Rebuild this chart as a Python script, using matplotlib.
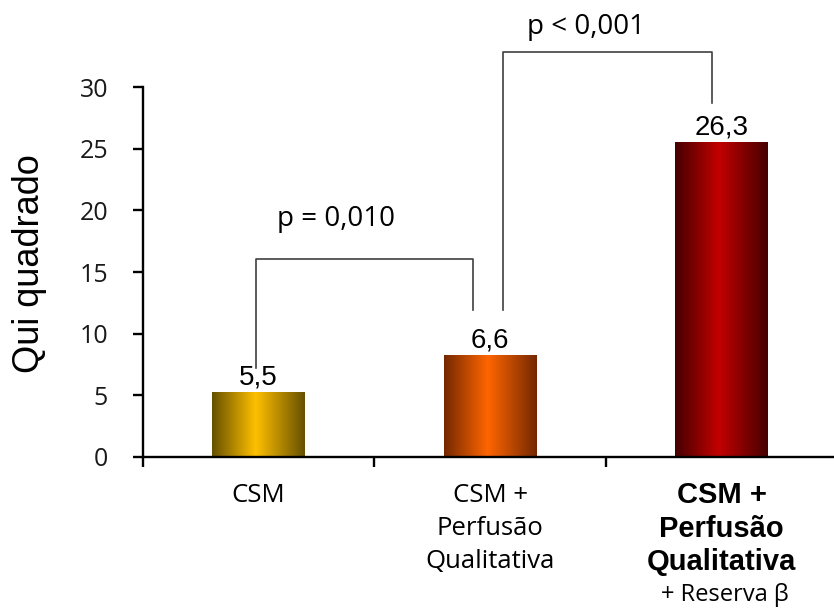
import numpy as np
import matplotlib.pyplot as plt
from matplotlib.colors import LinearSegmentedColormap

# Data
positions = [0, 1, 2]
heights = [5.23, 8.26, 25.5]
value_labels = ["5,5", "6,6", "26,3"]
cat_lines = [["CSM"], ["CSM +", "Perfusão", "Qualitativa"], ["CSM +", "Perfusão", "Qualitativa"]]
extra_line = "+ Reserva β"
p_labels = ["p = 0,010", "p < 0,001"]
y_ticks = [0, 5, 10, 15, 20, 25, 30]

# gradient colours (edge, centre) per bar
bar_colors = [("#665000", "#ffc000"), ("#742800", "#ff6600"), ("#460000", "#c20000")]

calibri_like = ["Open Sans", "DejaVu Sans"]
arial_like = ["Liberation Sans", "DejaVu Sans"]

fig = plt.figure(figsize=(8.34, 6.08), dpi=100)
ax = fig.add_axes([0.1711, 0.2488, 0.8289, 0.6076])

bars = ax.bar(positions, heights, width=0.4, color="none", edgecolor="none")

grad = np.linspace(0, 1, 256).reshape(1, -1)
for patch, (edge, centre) in zip(bars, bar_colors):
    cmap = LinearSegmentedColormap.from_list("g", [(0, edge), (0.47, centre), (1, edge)])
    x0 = patch.get_x()
    ax.imshow(grad, extent=(x0, x0 + patch.get_width(), 0, patch.get_height()),
              aspect="auto", cmap=cmap, interpolation="bicubic", zorder=2)

for x, h, lab in zip(positions, heights, value_labels):
    ax.annotate(lab, xy=(x, h), xytext=(0, 8), textcoords="offset pixels",
                ha="center", va="baseline", fontsize=20, family=arial_like, color="black")

ax.set_xlim(-0.5, 2.485)
ax.set_ylim(0, 30)
ax.set_yticks(y_ticks)
ax.set_yticklabels([str(t) for t in y_ticks], family=calibri_like, fontsize=18, color="#1a1a1a")

for s in ["top", "right"]:
    ax.spines[s].set_visible(False)
for s in ["left", "bottom"]:
    ax.spines[s].set_linewidth(1.7)

ax.tick_params(axis="y", direction="out", length=7, width=1.7, pad=18)
ax.set_xticks(positions)
ax.set_xticklabels([])
ax.tick_params(axis="x", which="major", length=0)
ax.set_xticks([-0.5, 0.5, 1.5], minor=True)
ax.tick_params(axis="x", which="minor", direction="out", length=7, width=1.7)

ax.set_ylabel("Qui quadrado", fontsize=26, family=arial_like)
ax.yaxis.set_label_coords(-0.138, 0.5216)

# category labels below the axis
xt = ax.get_xaxis_transform()
offsets = [45, 78.5, 111.5]
for i, lines in enumerate(cat_lines):
    for line, off in zip(lines, offsets):
        if i == 2:
            ax.annotate(line, xy=(positions[i], 0), xycoords=xt, xytext=(0, -off - 1.5),
                        textcoords="offset pixels", ha="center", va="baseline",
                        fontsize=21, fontweight="bold", family=arial_like, annotation_clip=False)
        else:
            ax.annotate(line, xy=(positions[i], 0), xycoords=xt, xytext=(0, -off),
                        textcoords="offset pixels", ha="center", va="baseline",
                        fontsize=18.5, family=calibri_like, annotation_clip=False)
ax.annotate(extra_line, xy=(positions[2], 0), xycoords=xt, xytext=(3, -144),
            textcoords="offset pixels", ha="center", va="baseline",
            fontsize=17, family=calibri_like, annotation_clip=False)

# significance brackets
brackets = [(-0.011, 0.927, 16.08, 7.2, 11.9), (1.057, 1.958, 32.9, 11.9, 28.7)]
p_pos = [(0.333, 18.7), (1.414, 34.3)]
for (xa, xb, top, ya, yb), (px, py), lab in zip(brackets, p_pos, p_labels):
    ax.plot([xa, xa, xb, xb], [ya, top, top, yb], color="#404040", lw=1.2, clip_on=False)
    ax.text(px, py, lab, ha="center", va="baseline", fontsize=20, family=calibri_like)

plt.savefig("out.png", dpi=100)
